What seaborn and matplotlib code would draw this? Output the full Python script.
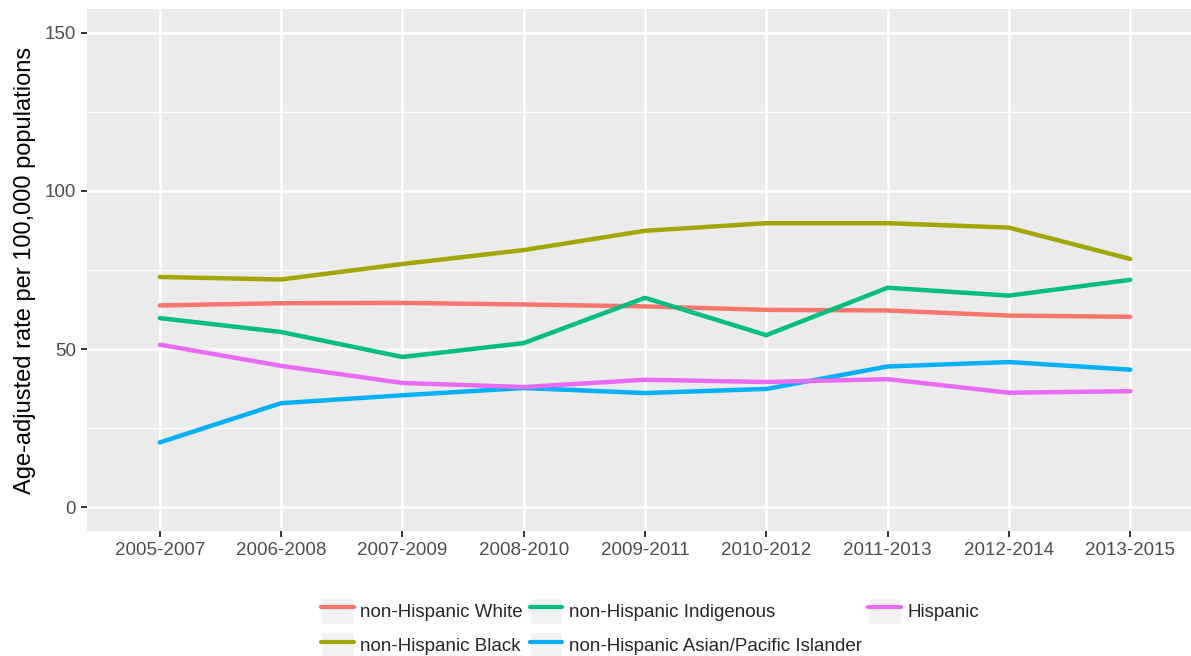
import pandas as pd
import matplotlib
matplotlib.use("Agg")
import matplotlib.pyplot as plt
from matplotlib.patches import Patch
from matplotlib.lines import Line2D
from matplotlib.legend_handler import HandlerTuple
from matplotlib.ticker import MultipleLocator
import seaborn as sns

# --- Data ---
periods = ['2005-2007', '2006-2008', '2007-2009', '2008-2010', '2009-2011',
           '2010-2012', '2011-2013', '2012-2014', '2013-2015']
groups = ['non-Hispanic White', 'non-Hispanic Black', 'non-Hispanic Indigenous',
          'non-Hispanic Asian/Pacific Islander', 'Hispanic']

white = [63.8, 64.5, 64.6, 64.1, 63.5, 62.4, 62.2, 60.6, 60.2]
black = [72.8, 72.0, 76.9, 81.3, 87.4, 89.8, 89.8, 88.4, 78.5]
indigenous = [59.8, 55.4, 47.5, 51.9, 66.2, 54.4, 69.4, 66.9, 71.9]
asian_pi = [20.5, 32.9, 35.4, 37.7, 36.1, 37.4, 44.5, 45.9, 43.5]
hispanic = [51.4, 44.7, 39.3, 38.0, 40.3, 39.6, 40.5, 36.2, 36.7]

colors = ['#F8766D', '#A3A500', '#00BF7D', '#00B0F6', '#E76BF3']

series = [white, black, indigenous, asian_pi, hispanic]
df = pd.DataFrame({
    'period': periods * len(groups),
    'rate': [v for s in series for v in s],
    'group': [g for g in groups for _ in periods],
})

# --- ggplot-like theme ---
sns.set_style("darkgrid", {
    'axes.facecolor': '#EBEBEB',
    'grid.color': 'white',
    'axes.edgecolor': '#EBEBEB',
})
plt.rcParams['font.family'] = ['Liberation Sans', 'DejaVu Sans']

fig = plt.figure(figsize=(11.91, 6.56), dpi=100)
ax = fig.add_axes([87 / 1191, 1 - 531 / 656, (1203 - 87) / 1191, (531 - 9) / 656])

sns.lineplot(data=df, x='period', y='rate', hue='group', hue_order=groups,
             palette=colors, linewidth=3.2, sort=False, ax=ax, legend=False)

ax.set_xlim(-0.6, 8.6)
ax.set_ylim(-7.5, 157.5)
ax.set_yticks([0, 50, 100, 150])
ax.yaxis.set_minor_locator(MultipleLocator(25))
ax.grid(which='major', color='white', linewidth=1.9)
ax.grid(which='minor', axis='y', color='white', linewidth=0.9)
ax.grid(which='minor', axis='x', visible=False)
ax.set_axisbelow(True)
for sp in ax.spines.values():
    sp.set_visible(False)

ax.tick_params(axis='both', which='major', direction='out', length=4,
               width=1.4, color='#333333', labelcolor='#4D4D4D',
               labelsize=13.5, pad=4, bottom=True, left=True)
ax.tick_params(axis='y', which='minor', length=0)
ax.set_xlabel('')
ax.set_ylabel('Age-adjusted rate per 100,000 populations', fontsize=17,
              color='black', labelpad=6)

# --- Legend at the bottom, grey key boxes like ggplot ---
handles = [(Patch(facecolor='#F2F2F2', edgecolor='white', linewidth=1),
            Line2D([], [], color=c, linewidth=3.0)) for c in colors]
fig.legend(handles, groups,
           handler_map={tuple: HandlerTuple(ndivide=1, pad=0)},
           loc='center', bbox_to_anchor=(0.546, 0.043), ncol=3, frameon=False,
           fontsize=13.5, handlelength=1.75, handleheight=1.75,
           handletextpad=0.35, columnspacing=0.35, labelspacing=0.45,
           borderpad=0)

fig.savefig('out.png', dpi=100)
